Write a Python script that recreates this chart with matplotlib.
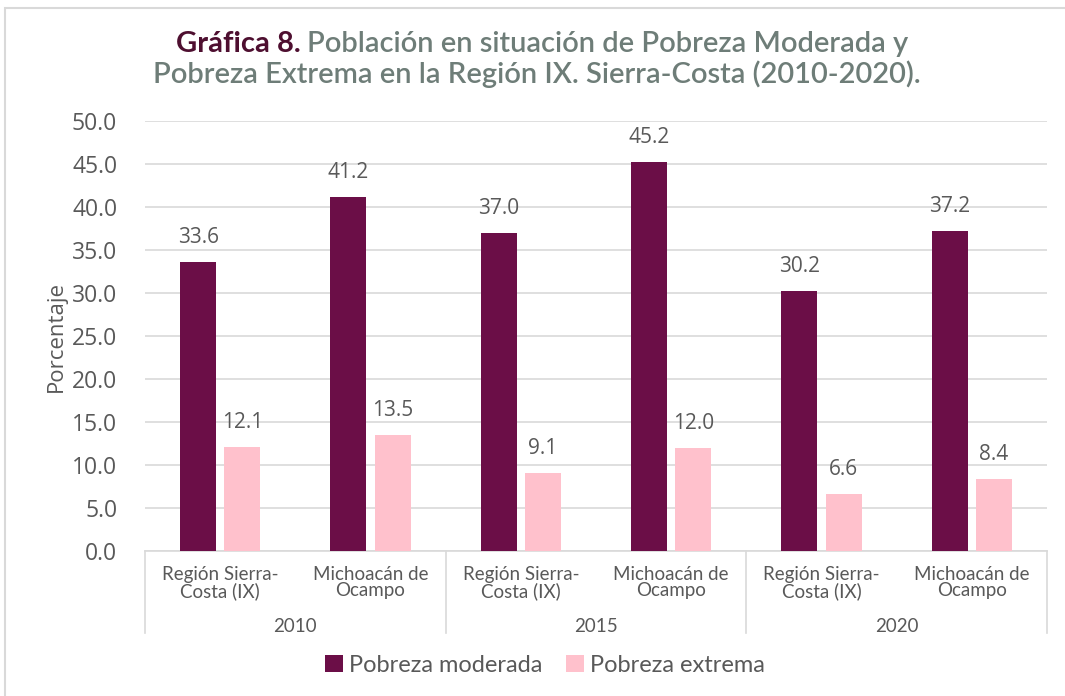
import numpy as np
import matplotlib.pyplot as plt
import matplotlib.transforms as mtransforms
from matplotlib.patches import Rectangle

categorias = ["Región Sierra-\nCosta (IX)", "Michoacán de\nOcampo"] * 3
anios = ["2010", "2015", "2020"]
moderada = [33.6, 41.2, 37.0, 45.2, 30.2, 37.2]
extrema = [12.1, 13.5, 9.1, 12.0, 6.6, 8.4]

color_mod = "#6B0E47"
color_ext = "#FFC1CC"
gris = "#595959"

plt.rcParams['font.family'] = ['Lato', 'DejaVu Sans']

fig = plt.figure(figsize=(10.65, 6.96), dpi=100)
fig.patches.append(Rectangle((5 / 1065, -0.1), 1.2, (696 - 8) / 696 + 0.1,
                             transform=fig.transFigure, fill=False,
                             edgecolor="#D9D9D9", linewidth=1.5))
ax = fig.add_axes([145 / 1065, 1 - 551 / 696, 902 / 1065, 430 / 696])

x = np.arange(len(categorias))
w = 0.24
b1 = ax.bar(x - 0.147, moderada, w, color=color_mod, label="Pobreza moderada", zorder=3)
b2 = ax.bar(x + 0.147, extrema, w, color=color_ext, label="Pobreza extrema", zorder=3)
for bars in (b1, b2):
    ax.bar_label(bars, labels=[f"{v.get_height():.1f}" for v in bars], padding=10,
                 fontsize=15, color=gris, fontfamily="Open Sans")

ax.set_xlim(-0.5, len(categorias) - 0.5)
ax.set_ylim(0, 50)
ax.set_yticks(np.arange(0, 50.1, 5))
ax.set_yticklabels([f"{v:.1f}" for v in np.arange(0, 50.1, 5)], fontsize=16.5,
                   color=gris, fontfamily="Open Sans")
ax.tick_params(axis="y", length=0, pad=20)
ax.grid(axis="y", color="#D9D9D9", linewidth=1.2, zorder=0)
ax.set_axisbelow(True)
for s in ["top", "right", "left"]:
    ax.spines[s].set_visible(False)
ax.spines["bottom"].set_color("#D9D9D9")
ax.spines["bottom"].set_linewidth(1.2)

ax.set_xticks(x)
ax.set_xticklabels(categorias, fontsize=13.5, color=gris, linespacing=0.9)
ax.tick_params(axis="x", length=0, pad=11)

trans = mtransforms.blended_transform_factory(ax.transData, ax.transAxes)
for i, anio in enumerate(anios):
    ax.text(2 * i + 0.5, -0.175, anio, transform=trans, ha="center", va="center",
            fontsize=13.5, color=gris)
for xs in [-0.5, 1.5, 3.5, 5.5]:
    ax.plot([xs, xs], [0, -0.19], transform=trans, color="#D9D9D9", linewidth=1.2,
            clip_on=False)

ax.set_ylabel("Porcentaje", fontsize=16, color=gris, fontfamily="Open Sans", labelpad=4)

# titulo: parte en negritas + resto en gris
t1 = fig.text(170 / 1065, 1 - 44 / 696, "Gráfica 8.", fontsize=21, fontweight="bold",
              color="#4E0F30", va="center")
t2 = fig.text(0, 1 - 44 / 696, "Población en situación de Pobreza Moderada y",
              fontsize=21, fontweight="semibold", color="#6E7D78", va="center")
fig.canvas.draw()
w1 = t1.get_window_extent().width
w2 = t2.get_window_extent().width
inicio = 542 - (w1 + 6 + w2) / 2
t1.set_x(inicio / 1065)
t2.set_x((inicio + w1 + 6) / 1065)
fig.text(537 / 1065, 1 - 74 / 696, "Pobreza Extrema en la Región IX. Sierra-Costa (2010-2020).",
         fontsize=21, fontweight="semibold", color="#6E7D78", va="center", ha="center")

fig.legend(handles=[b1, b2], loc="center", bbox_to_anchor=(545 / 1065, 1 - 665 / 696), ncol=2,
           frameon=False, fontsize=17, handlelength=0.75, handleheight=0.75,
           handletextpad=0.25, columnspacing=1.0, labelcolor=gris)

fig.savefig("out.png", dpi=100)
